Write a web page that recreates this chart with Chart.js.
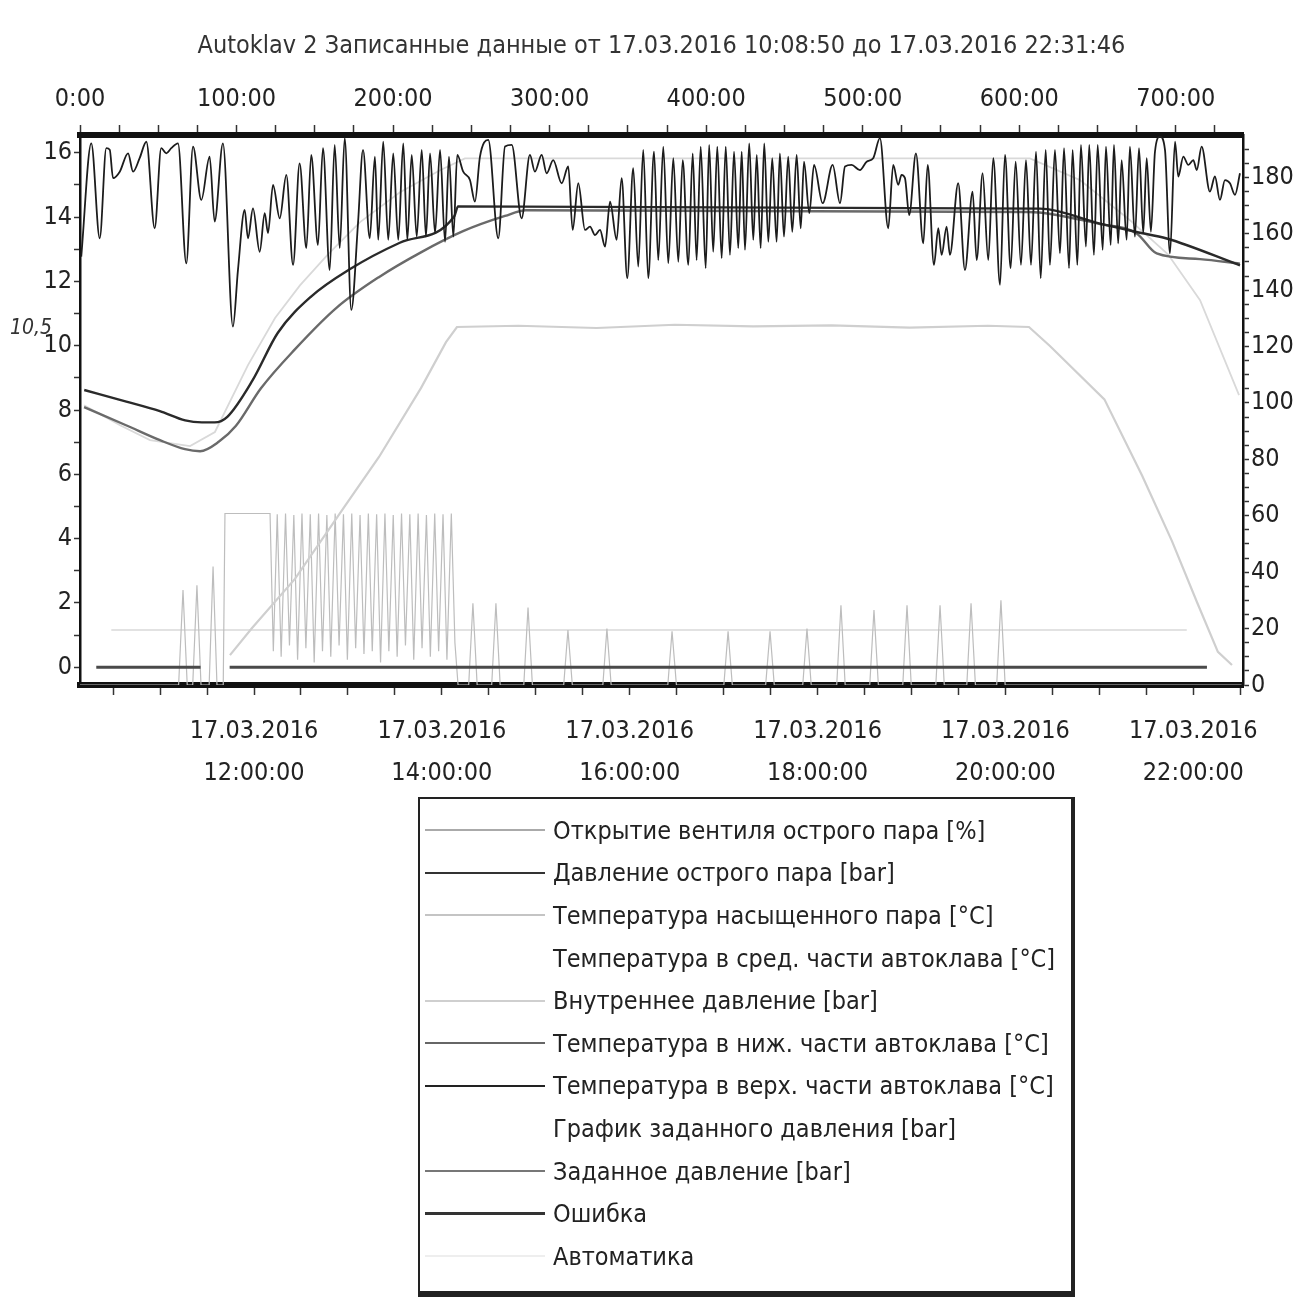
<!DOCTYPE html>
<html>
<head>
<meta charset="utf-8">
<script src="https://cdn.jsdelivr.net/npm/chart.js@4.4.1/dist/chart.umd.min.js"></script>
<style>
  body { margin: 0; background: #fff; }
  #wrap { position: relative; width: 1311px; height: 1303px; }
  #chart { position: absolute; left: 0; top: 0; }
  #legend {
    position: absolute; left: 418px; top: 797px;
    width: 651px; height: 482px; padding-top: 10px;
    border: 2px solid #222; border-right-width: 4px; border-bottom-width: 6px;
    font-family: 'DejaVu Sans Condensed', 'Liberation Sans Narrow', 'DejaVu Sans', sans-serif;
    font-size: 25px; color: #222;
  }
  .row { display: flex; align-items: center; height: 42.6px; }
  .sample { width: 120px; margin-left: 5px; margin-right: 8px; height: 0; }
  .row span { white-space: nowrap; }
</style>
</head>
<body>
<div id="wrap">
  <canvas id="chart" width="1311" height="800"></canvas>
  <div id="legend"></div>
</div>
<script>
const FONT = "'DejaVu Sans Condensed', 'Liberation Sans Narrow', 'DejaVu Sans', sans-serif";
const titleText = 'Autoklav 2 Записанные данные от 17.03.2016 10:08:50 до 17.03.2016 22:31:46';
const startSec = 10 * 3600 + 8 * 60 + 50;
const endSec = 22 * 3600 + 31 * 60 + 46;
const totalMin = (endSec - startSec) / 60;
const dateLabel = '17.03.2016';

const legendNames = [
  'Открытие вентиля острого пара [%]',
  'Давление острого пара [bar]',
  'Температура насыщенного пара [°C]',
  'Температура в сред. части автоклава [°C]',
  'Внутреннее давление [bar]',
  'Температура в ниж. части автоклава [°C]',
  'Температура в верх. части автоклава [°C]',
  'График заданного давления [bar]',
  'Заданное давление [bar]',
  'Ошибка',
  'Автоматика'
];

// minutes since start / bar
const steamMin = [0.8,7.2,12.6,16.8,19.0,21.1,25.4,30.7,33.9,38.1,42.4,47.7,51.9,55.1,58.3,62.6,67.9,72.2,77.5,82.8,86.0,91.3,97.7,100.9,105.2,107.3,110.5,114.8,118.0,120.1,123.3,127.6,131.8,136.1,140.3,144.6,147.7,152.0,155.2,159.5,162.7,165.9,169.1,173.3,177.6,180.8,185.1,188.4,190.5,193.7,196.9,200.1,203.3,206.5,209.1,211.9,215.1,218.3,221.0,223.6,226.8,230.0,233.2,235.7,238.5,241.0,244.8,249.1,252.3,255.5,260.8,267.2,271.5,275.8,282.1,287.4,290.6,294.9,298.1,302.3,307.7,311.9,314.7,318.3,322.6,325.8,329.0,332.2,335.4,338.6,342.8,346.0,349.6,353.4,356.6,359.8,363.0,366.7,369.4,372.6,375.8,379.0,382.2,385.0,388.6,391.4,393.9,396.5,399.7,401.9,404.5,407.1,409.9,412.5,415.2,417.8,420.5,422.7,424.8,427.5,430.1,432.3,434.8,437.1,439.7,442.2,445.0,447.1,449.7,452.4,455.0,457.8,460.4,462.5,465.9,468.9,474.4,480.8,485.5,488.7,492.9,498.2,502.5,506.7,511.0,516.3,519.5,522.7,524.8,527.0,529.7,534.0,538.7,541.5,545.5,548.3,550.4,553.6,555.7,561.0,565.3,570.2,572.8,576.6,580.2,583.4,587.7,590.9,594.5,597.7,601.1,604.3,607.5,610.7,613.7,616.9,619.6,622.8,626.0,628.6,631.8,634.1,637.1,639.4,642.6,644.7,647.7,650.1,653.3,655.4,658.4,660.5,663.2,665.4,668.6,670.7,673.9,676.5,679.2,681.4,684.1,686.7,689.9,693.1,696.3,699.5,701.6,704.8,708.0,711.2,713.4,716.5,721.8,725.0,728.2,731.4,734.6,737.8,741.0];
const steamBar = [12.77,16.29,13.34,16.14,16.09,15.21,15.41,15.98,15.41,15.83,16.34,13.65,16.14,15.98,16.14,16.29,12.56,16.19,14.53,15.88,13.86,16.29,10.59,12.35,14.22,13.34,14.27,12.92,14.12,13.50,15.00,13.96,15.31,12.51,15.67,13.03,15.93,13.13,16.14,12.35,16.24,13.03,16.45,11.11,13.81,16.09,13.34,15.88,13.29,16.34,13.29,15.98,13.29,16.29,13.29,15.93,13.39,16.09,13.39,15.98,13.50,16.09,13.23,15.88,13.39,15.93,15.41,15.15,14.48,15.88,16.40,13.34,16.19,16.24,13.96,15.93,15.41,15.93,15.36,15.77,15.05,15.57,13.60,15.05,13.60,13.70,13.44,13.60,13.08,14.48,13.29,15.21,12.10,15.52,12.46,16.09,12.10,16.03,12.66,16.19,12.56,15.83,12.61,15.77,12.51,15.98,12.66,16.19,12.41,16.24,12.92,16.19,12.72,16.19,12.82,16.03,13.03,16.03,12.98,16.29,13.29,15.93,13.03,16.29,13.23,15.83,13.23,15.98,13.39,15.88,13.54,15.93,13.65,15.72,14.12,15.62,14.43,15.62,14.43,15.57,15.62,15.46,15.72,15.83,16.45,13.65,15.62,15.00,15.31,15.21,14.06,15.98,13.18,15.62,12.51,13.65,12.82,13.70,12.82,15.05,12.35,14.79,12.66,15.36,12.66,15.83,11.89,15.93,12.41,15.72,12.51,15.77,12.51,16.03,12.10,16.09,12.51,16.09,12.87,16.14,12.41,16.09,12.51,16.24,13.08,16.24,12.82,16.24,12.98,16.19,13.13,16.24,13.18,15.77,13.29,16.19,13.39,16.14,13.50,15.83,13.54,16.03,16.50,16.09,12.87,16.34,15.26,15.88,15.62,15.77,15.46,16.19,14.79,15.26,14.53,15.15,15.05,14.69,15.36];

// valve opening, %
const valveMin = [0,63,65.8,68.5,72,74.7,77.3,82.5,85,87.5,91.5,92.6,121.4,123.5,126,128.5,131.3,133.8,136.6,139,141.8,144.3,147.1,149.6,152.4,154.9,157.7,160.2,163,165.5,168.3,170.8,173.6,176.1,178.9,181.4,184.2,186.7,189.5,192,194.8,197.3,200.1,202.6,205.4,207.9,210.7,213.2,216,218.5,221.3,223.8,226.6,229.1,231.9,234.4,237.2,239.5,241.5,248.3,251,253.7,263,265.7,268.4,283.5,286.2,289,309,311.7,314.5,334,336.6,339.3,375.5,378.2,381,411.3,414,416.7,438,440.8,443.5,461.7,464.4,467.1,483.4,486.1,488.8,504.5,507.2,510,525.6,528.3,531,546.7,549.4,552.1,566.5,569.2,572,585.6,588.3,591,742];
const valvePct = [0,0,33.7,0,0,35.4,0,0,42,0,0,60.8,60.8,12,60.5,10,60.8,14,60.3,9,60.8,13,60.5,8,60.8,12,60.3,10,60.8,14,60.5,9,60.8,13,60.3,11,60.8,12,60.5,8,60.8,12,60.3,10,60.8,14,60.5,9,60.8,13,60.3,10,60.8,12,60.5,9,60.8,15,0,0,29,0,0,29,0,0,27.5,0,0,19.5,0,0,20,0,0,19,0,0,19,0,0,19,0,0,20,0,0,28.3,0,0,26.6,0,0,28.3,0,0,28.3,0,0,29,0,0,30,0,0];

// saturated steam temperature, °C
const satMin = [2.6,25.6,44.7,70.3,86.2,107.3,124.6,140.5,158.4,178.9,204.4,230.0,245.9,606.8,638.8,670.7,695.0,715.5,740.4];
const satTemp = [99.2,92.1,86.8,84.7,89.7,113.4,130.1,141.7,152.7,164.1,174.7,182.5,186.7,186.7,179.0,164.8,152.7,136.4,102.8];

// internal pressure, bar
const innerMin = [95.8,109.9,137.3,169.3,191.0,217.8,233.8,240.8,280,330,380,430,480,530,580,606.2,619.6,654.4,678.6,697.5,713.5,726.9,735.9];
const innerBar = [0.38,1.22,2.75,5.02,6.54,8.68,10.11,10.58,10.62,10.55,10.65,10.6,10.63,10.56,10.62,10.58,9.99,8.33,5.95,3.93,2.03,0.48,0.07];

// lower / upper part temperature, °C
const lowMin = [2.6,29.4,51.1,67.1,76.7,88.8,99.5,115.6,137.1,164.0,190.9,217.8,244.7,271.5,284.9,606.2,651.6,675.0,687.8,715.5,741.0];
const lowTemp = [98.5,92.1,86.8,83.6,82.9,86.3,91.8,105.2,118.9,133.8,144.6,153.4,160.9,166.3,168.3,167.7,163.4,160.1,153.0,151.0,149.4];
const upMin = [2.7,29.6,51.0,67.2,77.9,86.0,94.1,110.2,126.4,147.8,172.0,204.3,239.2,241.5,613.2,651.6,675.0,694.2,741.0];
const upTemp = [104.6,100.5,97.1,93.8,93.1,93.1,95.1,108.0,124.9,137.8,147.3,156.8,166.3,169.7,168.9,163.6,160.6,158.3,148.8];

// set pressure, error
const setMin = [20, 707];
const setBar = [1.16, 1.16];
const errMin = [10.4, 77, 86, 95.6, 719.9];
const errVal = [0, 0, null, 0, 0];

const topLabels = ['0:00','100:00','200:00','300:00','400:00','500:00','600:00','700:00'];
const leftTicks = [0,2,4,6,8,10,12,14,16];
const rightTicks = [0,20,40,60,80,100,120,140,160,180];

function pts(xs, ys) {
  const n = Math.min(xs.length, ys.length);
  const out = [];
  for (let i = 0; i < n; i++) out.push({ x: xs[i], y: ys[i] });
  return out;
}

// bottom axis: tick every 30 min, label every 2 h
const bottomTicks = [];
const bottomLabels = {};
for (let h = 10.5; h <= 22.5; h += 0.5) {
  const m = (h * 3600 - startSec) / 60;
  if (m < 0 || m > totalMin) continue;
  bottomTicks.push(m);
  if (h % 2 === 0) bottomLabels[m.toFixed(2)] = [dateLabel, String(h).padStart(2, '0') + ':00:00'];
}
const topTicks = [];
for (let m = 0; m <= totalMin; m += 25) topTicks.push(m);

Chart.defaults.font.family = FONT;
Chart.defaults.color = '#222';

const note = {
  id: 'note',
  afterDraw(c) {
    const g = c.ctx;
    g.save();
    g.font = 'italic 21px ' + FONT;
    g.fillStyle = '#333';
    g.fillText('10,5', 10, 334);
    g.restore();
  }
};

const gridOpts = { drawOnChartArea: false, drawTicks: true, tickLength: 8, color: '#333', tickWidth: 1.5 };

const chart = new Chart(document.getElementById('chart'), {
  type: 'line',
  data: {
    datasets: [
      { label: legendNames[0], data: pts(valveMin, valvePct), yAxisID: 'y2', borderColor: '#bdbdbd', borderWidth: 1.2, order: 6, legendColor: '#aaa' },
      { label: legendNames[1], data: pts(steamMin, steamBar), yAxisID: 'y', borderColor: '#1c1c1c', borderWidth: 1.8, cubicInterpolationMode: 'monotone', order: 0, legendColor: '#333' },
      { label: legendNames[2], data: pts(satMin, satTemp), yAxisID: 'y2', borderColor: '#d9d9d9', borderWidth: 1.8, order: 5, legendColor: '#c4c4c4' },
      { label: legendNames[3], data: [], yAxisID: 'y2', borderColor: 'rgba(0,0,0,0)', order: 9 },
      { label: legendNames[4], data: pts(innerMin, innerBar), yAxisID: 'y', borderColor: '#cfcfcf', borderWidth: 2.2, order: 5, legendColor: '#cfcfcf' },
      { label: legendNames[5], data: pts(lowMin, lowTemp), yAxisID: 'y2', borderColor: '#6a6a6a', borderWidth: 2.4, cubicInterpolationMode: 'monotone', order: 2, legendColor: '#666' },
      { label: legendNames[6], data: pts(upMin, upTemp), yAxisID: 'y2', borderColor: '#2a2a2a', borderWidth: 2.4, cubicInterpolationMode: 'monotone', order: 1, legendColor: '#222' },
      { label: legendNames[7], data: [], yAxisID: 'y', borderColor: 'rgba(0,0,0,0)', order: 9 },
      { label: legendNames[8], data: pts(setMin, setBar), yAxisID: 'y', borderColor: '#d8d8d8', borderWidth: 1.5, order: 7, legendColor: '#777' },
      { label: legendNames[9], data: pts(errMin, errVal), yAxisID: 'y', borderColor: '#4a4a4a', borderWidth: 3, order: 3, legendColor: '#333' },
      { label: legendNames[10], data: [], yAxisID: 'y', borderColor: '#ececec', order: 9, legendColor: '#eee' }
    ]
  },
  options: {
    responsive: false,
    animation: false,
    devicePixelRatio: 1,
    layout: { padding: 0 },
    spanGaps: false,
    elements: { point: { radius: 0 }, line: { tension: 0, fill: false } },
    plugins: {
      legend: { display: false },
      tooltip: { enabled: false },
      title: {
        display: true, text: titleText, color: '#333', fullSize: false,
        font: { size: 25, weight: 'normal' },
        padding: { top: 31, bottom: 5 }
      }
    },
    scales: {
      x: {
        type: 'linear', position: 'bottom', min: 0, max: totalMin,
        afterBuildTicks: s => { s.ticks = bottomTicks.map(v => ({ value: v })); },
        afterFit: s => { s.height = 115; },
        ticks: {
          autoSkip: false, maxRotation: 0, padding: 15, color: '#222',
          font: { size: 25, lineHeight: 1.7 },
          callback: v => bottomLabels[Number(v).toFixed(2)] || ''
        },
        grid: { ...gridOpts, tickLength: 10 },
        border: { color: '#111', width: 6 }
      },
      x2: {
        type: 'linear', position: 'top', min: 0, max: totalMin,
        afterBuildTicks: s => { s.ticks = topTicks.map(v => ({ value: v })); },
        afterFit: s => { s.height = 135 - 66; },
        ticks: {
          autoSkip: false, maxRotation: 0, padding: 11, color: '#222',
          font: { size: 25 },
          callback: v => (v % 100 === 0 ? topLabels[v / 100] : '')
        },
        grid: { ...gridOpts, tickLength: 10 },
        border: { color: '#111', width: 6 }
      },
      y: {
        position: 'left', min: -0.55, max: 16.55,
        afterBuildTicks: s => { const a = []; for (let v = 0; v <= 16; v++) a.push({ value: v }); s.ticks = a; },
        afterFit: s => { s.width = 80; },
        ticks: {
          autoSkip: false, padding: 2, color: '#222', font: { size: 25 },
          callback: v => (leftTicks.includes(v) ? String(v) : '')
        },
        grid: { ...gridOpts, tickLength: 6 },
        border: { color: '#111', width: 2.5 }
      },
      y2: {
        position: 'right', min: 0, max: 195,
        afterBuildTicks: s => { const a = []; for (let v = 0; v <= 190; v += 5) a.push({ value: v }); s.ticks = a; },
        afterFit: s => { s.width = 1311 - 1243; },
        ticks: {
          autoSkip: false, padding: 2, color: '#222', font: { size: 25 },
          callback: v => (rightTicks.includes(v) ? String(v) : '')
        },
        grid: { ...gridOpts, tickLength: 6 },
        border: { color: '#111', width: 2.5 }
      }
    }
  },
  plugins: [note]
});

// html legend built from the chart's datasets
const legendEl = document.getElementById('legend');
chart.data.datasets.forEach(ds => {
  const row = document.createElement('div');
  row.className = 'row';
  const sample = document.createElement('div');
  sample.className = 'sample';
  const col = ds.legendColor || ds.borderColor;
  sample.style.borderTop = Math.max(2, Math.min(3, ds.borderWidth || 2)) + 'px solid ' + col;
  const txt = document.createElement('span');
  txt.textContent = ds.label;
  row.appendChild(sample);
  row.appendChild(txt);
  legendEl.appendChild(row);
});
</script>
</body>
</html>
